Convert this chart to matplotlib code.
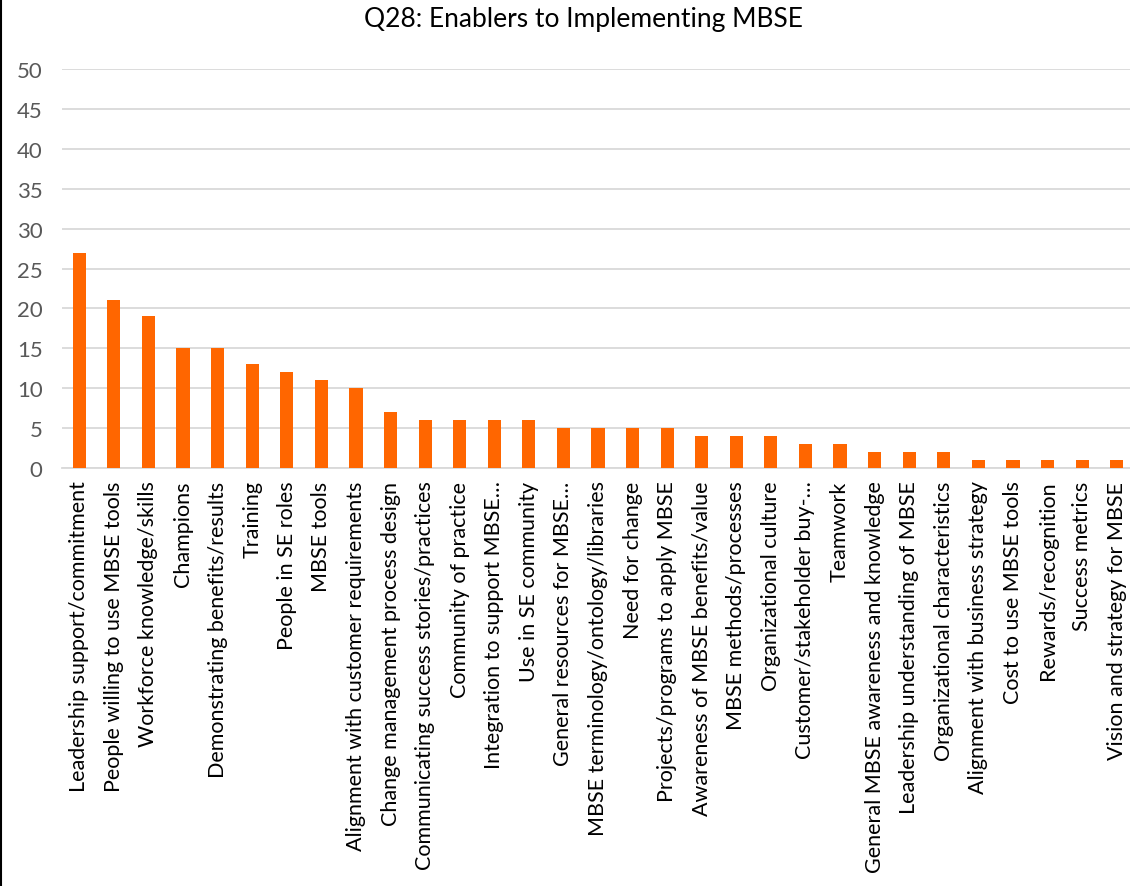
import matplotlib
matplotlib.use("Agg")
import matplotlib.pyplot as plt
from matplotlib.lines import Line2D

plt.rcParams["font.family"] = ["Lato", "DejaVu Sans"]

categories = [
    "Leadership support/commitment",
    "People willing to use MBSE tools",
    "Workforce knowledge/skills",
    "Champions",
    "Demonstrating benefits/results",
    "Training",
    "People in SE roles",
    "MBSE tools",
    "Alignment with customer requirements",
    "Change management process design",
    "Communicating success stories/practices",
    "Community of practice",
    "Integration to support MBSE…",
    "Use in SE community",
    "General resources for MBSE…",
    "MBSE terminology/ontology/libraries",
    "Need for change",
    "Projects/programs to apply MBSE",
    "Awareness of MBSE benefits/value",
    "MBSE methods/processes",
    "Organizational culture",
    "Customer/stakeholder buy-…",
    "Teamwork",
    "General MBSE awareness and knowledge",
    "Leadership understanding of MBSE",
    "Organizational characteristics",
    "Alignment with business strategy",
    "Cost to use MBSE tools",
    "Rewards/recognition",
    "Success metrics",
    "Vision and strategy for MBSE",
]
counts = [27, 21, 19, 15, 15, 13, 12, 11, 10, 7, 6, 6, 6, 6, 5, 5, 5, 5,
          4, 4, 4, 3, 3, 2, 2, 2, 1, 1, 1, 1, 1]
yticks = list(range(0, 55, 5))

fig = plt.figure(figsize=(11.3, 8.87), dpi=100)
W, H = 1130, 887
ax = fig.add_axes([62 / W, (H - 469) / H, (1134 - 62) / W, (469 - 70) / H])

x = range(len(categories))
ax.bar(x, counts, width=0.38, color="#FF6600", zorder=3)

ax.set_xlim(-0.5, len(categories) - 0.5)
ax.set_ylim(0, 50)
ax.set_yticks(yticks)
ax.yaxis.grid(True, color="#D9D9D9", linewidth=1.3, zorder=0)
ax.set_xticks(list(x))
ax.set_xticklabels(categories, rotation=90, fontsize=15.5, color="black")
ax.tick_params(axis="y", labelsize=16, labelcolor="#595959", length=0, pad=14)
ax.tick_params(axis="x", length=0, pad=9)
for s in ["top", "right", "left"]:
    ax.spines[s].set_visible(False)
ax.spines["bottom"].set_color("#D9D9D9")
ax.spines["bottom"].set_linewidth(1.3)

fig.text(583 / W, 1 - 20 / H, "Q28: Enablers to Implementing MBSE",
         ha="center", va="center", fontsize=19)
fig.add_artist(Line2D([0.0009, 0.0009], [0, 1], color="black", linewidth=1.5))

fig.savefig("out.png", dpi=100)
